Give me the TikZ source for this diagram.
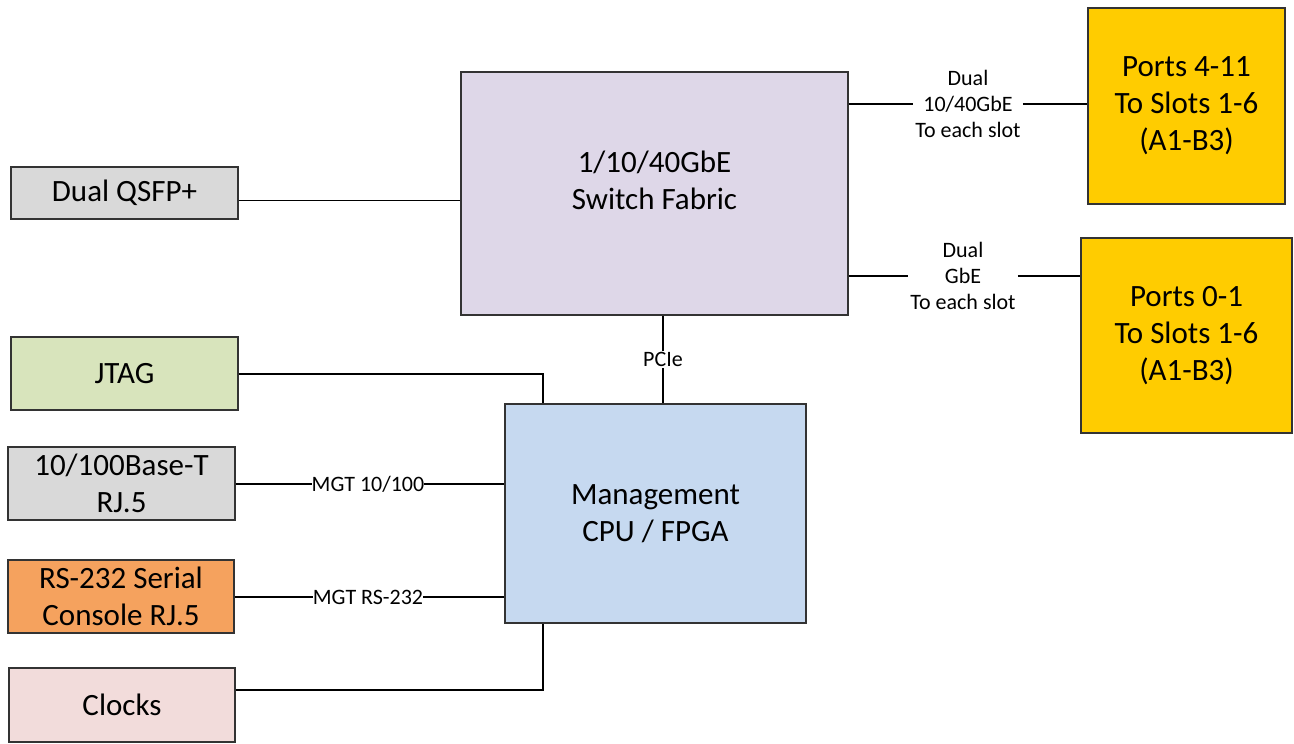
\documentclass[tikz,border=0pt]{standalone}
\usepackage{fontspec}
\setmainfont{Carlito}
\usetikzlibrary{calc}
\definecolor{fabricfill}{RGB}{222,215,232}
\definecolor{portfill}{RGB}{255,204,0}
\definecolor{greyfill}{RGB}{217,217,217}
\definecolor{jtagfill}{RGB}{216,228,188}
\definecolor{serialfill}{RGB}{245,162,94}
\definecolor{clockfill}{RGB}{242,220,219}
\definecolor{mgmtfill}{RGB}{198,217,240}
\begin{document}
\begin{tikzpicture}[x=1pt,y=-1pt,
    blk/.style={draw=black!80, line width=1.2pt, align=center, inner sep=0pt,
        font=\fontsize{31}{37}\selectfont},
    lbl/.style={fill=white, align=center, inner sep=2pt,
        font=\fontsize{22}{26}\selectfont},
    wire/.style={line width=2pt}]
    \useasboundingbox (0,0) rectangle (1294,744);

    % Switch and slot ports
    \node[blk, fill=fabricfill, minimum width=387pt, minimum height=243pt] (sw) at (654.5,193.5) {};
    \node[blk, draw=none, fill=none] (swtext) at (654.5,180) {1/10/40GbE\\Switch Fabric};
    \node[blk, fill=portfill, minimum width=197pt, minimum height=196pt] (p411) at (1186.5,106) {Ports 4-11\\To Slots 1-6\\(A1-B3)};
    \node[blk, fill=portfill, minimum width=211pt, minimum height=195pt] (p01) at (1186.5,335.5) {Ports 0-1\\To Slots 1-6\\(A1-B3)};

    % Front panel blocks
    \node[blk, fill=greyfill, minimum width=227pt, minimum height=52pt] (qsfp) at (124.5,193) {Dual QSFP+};
    \node[blk, fill=jtagfill, minimum width=227pt, minimum height=73pt] (jtag) at (124.5,373.5) {JTAG};
    \node[blk, fill=greyfill, minimum width=227pt, minimum height=73pt] (bt) at (121.5,483.5) {10/100Base-T\\RJ.5};
    \node[blk, fill=serialfill, minimum width=226pt, minimum height=73pt] (rs) at (121,596.5) {RS-232 Serial\\Console RJ.5};
    \node[blk, fill=clockfill, minimum width=226pt, minimum height=74pt] (clk) at (122,705) {Clocks};

    % Management
    \node[blk, fill=mgmtfill, minimum width=301pt, minimum height=219pt] (mg) at (655.5,513.5) {Management\\CPU / FPGA};

    % Labels
    \node[lbl] (tenlbl) at (968,104) {Dual\\10/40GbE\\To each slot};
    \node[lbl] (gbelbl) at (963,276) {Dual\\GbE\\To each slot};
    \node[lbl, inner sep=0pt] (btlbl) at (368,484) {MGT 10/100};
    \node[lbl, inner sep=0pt] (rslbl) at (368,597) {MGT RS-232};

    % Links
    \draw[wire] (sw.east |- tenlbl) -- (tenlbl);
    \draw[wire] (tenlbl) -- (p411.west |- tenlbl);
    \draw[wire] (sw.east |- gbelbl) -- (gbelbl);
    \draw[wire] (gbelbl) -- (p01.west |- gbelbl);
    \draw[line width=0.8pt] ($(qsfp.east)+(0,7)$) coordinate (q) -- (sw.west |- q);
    \draw[wire] ($(sw.south)+(8.5,0)$) -- node[lbl, inner sep=1pt] (pcie) {PCIe} ($(mg.north)+(7.5,0)$);
    \draw[wire] (jtag.east) -| ($(mg.north west)+(39,0)$);
    \draw[wire] (bt.east |- btlbl) -- (btlbl) -- (mg.west |- btlbl);
    \draw[wire] (rs.east |- rslbl) -- (rslbl) -- (mg.west |- rslbl);
    \draw[wire] ($(clk.east)+(0,-15)$) -| ($(mg.south west)+(39,0)$);
\end{tikzpicture}
\end{document}
